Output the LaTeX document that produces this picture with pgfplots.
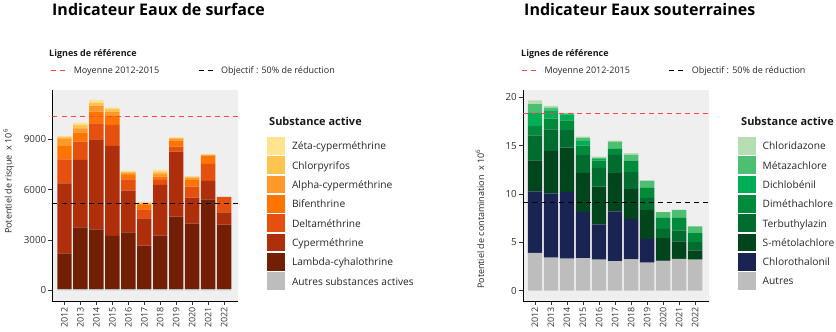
\documentclass[border=0pt]{standalone}
\usepackage{fontspec}
\setmainfont{Open Sans}
\usepackage{pgfplots}
\pgfplotsset{compat=1.18}

\definecolor{panelbg}{HTML}{EFEFEF}
\definecolor{refred}{HTML}{FF4545}
\definecolor{cZeta}{HTML}{FEE391}
\definecolor{cChlorp}{HTML}{FEC44F}
\definecolor{cAlpha}{HTML}{FE9929}
\definecolor{cBif}{HTML}{FF7400}
\definecolor{cDelta}{HTML}{E5500E}
\definecolor{cCyper}{HTML}{AF2F0C}
\definecolor{cLambda}{HTML}{731F05}
\definecolor{cAutres}{HTML}{BDBDBD}
\definecolor{gChlorid}{HTML}{B7DDB3}
\definecolor{gMetaz}{HTML}{4CBF72}
\definecolor{gDichlo}{HTML}{00AF55}
\definecolor{gDimeth}{HTML}{008A3B}
\definecolor{gTerbu}{HTML}{006C30}
\definecolor{gSmeto}{HTML}{00451C}
\definecolor{gChloroth}{HTML}{1A2452}

\pgfplotsset{
  panel/.style={
    scale only axis, anchor=south west,
    width=186pt, height=211pt,
    xmin=-0.75, xmax=10.87,
    axis background/.style={fill=panelbg},
    axis x line*=bottom, axis y line*=left,
    axis line style={black, line width=0.8pt, -},
    tick align=outside, major tick length=4pt,
    tick style={black!80, line width=0.6pt},
    xtick={0,1,2,3,4,5,6,7,8,9,10},
    xticklabels={2012,2013,2014,2015,2016,2017,2018,2019,2020,2021,2022},
    xticklabel style={rotate=90, anchor=east, inner sep=2pt, font=\fontsize{9}{10}\selectfont, text=black!80},
    yticklabel style={font=\fontsize{9.8}{11}\selectfont, text=black!80, inner sep=2pt},
    /pgf/number format/assume math mode=true,
    /pgf/number format/1000 sep={},
    scaled ticks=false,
    ybar stacked, bar width=14.4pt,
    every axis plot/.append style={draw=none},
    reverse legend,
    legend cell align=left,
    legend image code/.code={\path[#1, draw=none] (0pt,-8.85pt) rectangle (17.7pt,8.85pt);},
    legend style={draw=none, fill=none, inner sep=0pt, outer sep=0pt,
      anchor=north west, row sep=1.64pt, column sep=7pt,
      font=\fontsize{10.2}{11}\selectfont, text=black!85,
      nodes={inner sep=0pt, text depth=0pt}},
  },
  refpanel/.style={
    scale only axis, anchor=south west,
    width=186pt, height=211pt,
    xmin=-0.75, xmax=10.87,
    hide axis,
    legend columns=2,
    legend cell align=left,
    legend image code/.code={\draw[#1] (0pt,0pt) -- (14pt,0pt);},
    legend style={draw=none, fill=none, inner sep=0pt, outer sep=0pt,
      anchor=west, column sep=8pt,
      font=\fontsize{9}{10}\selectfont, text=black!85,
      nodes={inner sep=0pt, text depth=0pt},
      /tikz/every even column/.append style={column sep=39pt}},
  },
}

\begin{document}
\begin{tikzpicture}[x=1pt,y=1pt]
\path (0,0) rectangle (836,332);

% ---------------- Left: Eaux de surface ----------------
\begin{axis}[panel, at={(52.5pt,31pt)}, width=185.5pt,
  ymin=-638, ymax=11937, ytick={0,3000,6000,9000},
  legend style={at={(1.158,0.777)}}]
\addplot[fill=cAutres] coordinates {(0,70)(1,70)(2,70)(3,70)(4,70)(5,70)(6,70)(7,70)(8,70)(9,70)(10,70)};
\addlegendentry{Autres substances actives}
\addplot[fill=cLambda] coordinates {(0,2135)(1,3685)(2,3566)(3,3169)(4,3387)(5,2593)(6,3189)(7,4321)(8,3904)(9,5355)(10,3844)};
\addlegendentry{Lambda-cyhalothrine}
\addplot[fill=cCyper] coordinates {(0,4173)(1,4015)(2,5364)(3,5364)(4,2484)(5,1629)(6,3020)(7,3875)(8,1550)(9,1092)(10,736)};
\addlegendentry{Cyperméthrine}
\addplot[fill=cDelta] coordinates {(0,1431)(1,1092)(2,955)(3,1252)(4,676)(5,536)(6,298)(7,298)(8,656)(9,1014)(10,914)};
\addlegendentry{Deltaméthrine}
\addplot[fill=cBif] coordinates {(0,795)(1,538)(2,695)(3,537)(4,258)(5,259)(6,199)(7,358)(8,437)(9,496)(10,0)};
\addlegendentry{Bifenthrine}
\addplot[fill=cAlpha] coordinates {(0,457)(1,257)(2,358)(3,258)(4,139)(5,99)(6,159)(7,99)(8,99)(9,40)(10,0)};
\addlegendentry{Alpha-cyperméthrine}
\addplot[fill=cChlorp] coordinates {(0,79)(1,198)(2,179)(3,140)(4,59)(5,40)(6,139)(7,60)(8,59)(9,23)(10,0)};
\addlegendentry{Chlorpyrifos}
\addplot[fill=cZeta] coordinates {(0,60)(1,140)(2,159)(3,118)(4,40)(5,40)(6,119)(7,39)(8,40)(9,17)(10,0)};
\addlegendentry{Zéta-cyperméthrine}
\end{axis}

\begin{axis}[refpanel, at={(52.5pt,31pt)}, width=185.5pt,
  ymin=-638, ymax=11937,
  legend style={at={(-0.0081,1.0948)}}]
\addplot[refred, line width=0.8pt, dash pattern=on 5pt off 4pt] coordinates {(-0.75,10340)(10.87,10340)};
\addlegendentry{Moyenne 2012-2015}
\addplot[black, line width=0.8pt, dash pattern=on 5pt off 4pt] coordinates {(-0.75,5170)(10.87,5170)};
\addlegendentry{Objectif : 50\% de réduction}
\end{axis}

\node[anchor=base west, inner sep=0pt, font=\fontsize{16}{18}\selectfont\bfseries] at (52,316) {Indicateur Eaux de surface};
\node[anchor=base west, inner sep=0pt, font=\fontsize{9}{10}\selectfont\bfseries, text=black!90] at (49,275) {Lignes de référence};
\node[anchor=base west, inner sep=0pt, font=\fontsize{11}{12}\selectfont\bfseries, text=black!90] at (269,206) {Substance active};
\node[rotate=90, anchor=center, font=\fontsize{9}{10}\selectfont, text=black!85] at (8.5,150.5) {Potentiel de risque\ \ x 10\textsuperscript{6}};

% ---------------- Right: Eaux souterraines ----------------
\begin{axis}[panel, at={(523pt,31pt)}, width=186pt,
  ymin=-1.065, ymax=20.75, ytick={0,5,10,15,20},
  legend style={at={(1.156,0.777)}}]
\addplot[fill=cAutres] coordinates {(0,3.90)(1,3.41)(2,3.31)(3,3.37)(4,3.20)(5,3.06)(6,3.24)(7,2.89)(8,3.06)(9,3.30)(10,3.20)};
\addlegendentry{Autres}
\addplot[fill=gChloroth] coordinates {(0,6.38)(1,6.62)(2,6.90)(3,4.75)(4,3.65)(5,5.13)(6,4.19)(7,2.48)(8,0.04)(9,0)(10,0)};
\addlegendentry{Chlorothalonil}
\addplot[fill=gSmeto] coordinates {(0,3.20)(1,4.42)(2,4.58)(3,4.07)(4,3.92)(5,3.96)(6,3.07)(7,2.99)(8,2.34)(9,1.79)(10,0.96)};
\addlegendentry{S-métolachlore}
\addplot[fill=gTerbu] coordinates {(0,2.59)(1,2.24)(2,1.80)(3,1.82)(4,1.93)(5,1.89)(6,1.75)(7,1.24)(8,0.96)(9,1.14)(10,0.87)};
\addlegendentry{Terbuthylazin}
\addplot[fill=gDimeth] coordinates {(0,0.96)(1,1.10)(2,1.03)(3,1.00)(4,0.76)(5,0.62)(6,1.21)(7,1.04)(8,1.14)(9,1.31)(10,0.92)};
\addlegendentry{Diméthachlore}
\addplot[fill=gDichlo] coordinates {(0,1.35)(1,0.80)(2,0.62)(3,0.52)(4,0.14)(5,0)(6,0)(7,0)(8,0)(9,0)(10,0)};
\addlegendentry{Dichlobénil}
\addplot[fill=gMetaz] coordinates {(0,0.90)(1,0.34)(2,0.09)(3,0.27)(4,0.13)(5,0.74)(6,0.58)(7,0.75)(8,0.58)(9,0.82)(10,0.69)};
\addlegendentry{Métazachlore}
\addplot[fill=gChlorid] coordinates {(0,0.41)(1,0.17)(2,0.05)(3,0.14)(4,0.14)(5,0.12)(6,0.18)(7,0)(8,0)(9,0)(10,0)};
\addlegendentry{Chloridazone}
\end{axis}

\begin{axis}[refpanel, at={(523pt,31pt)}, width=186pt,
  ymin=-1.065, ymax=20.75,
  legend style={at={(-0.007,1.0948)}}]
\addplot[refred, line width=0.8pt, dash pattern=on 5pt off 4pt] coordinates {(-0.75,18.28)(10.87,18.28)};
\addlegendentry{Moyenne 2012-2015}
\addplot[black, line width=0.8pt, dash pattern=on 5pt off 4pt] coordinates {(-0.75,9.14)(10.87,9.14)};
\addlegendentry{Objectif : 50\% de réduction}
\end{axis}

\node[anchor=base west, inner sep=0pt, font=\fontsize{16}{18}\selectfont\bfseries] at (524,316) {Indicateur Eaux souterraines};
\node[anchor=base west, inner sep=0pt, font=\fontsize{9}{10}\selectfont\bfseries, text=black!90] at (521,275) {Lignes de référence};
\node[anchor=base west, inner sep=0pt, font=\fontsize{11}{12}\selectfont\bfseries, text=black!90] at (741,206) {Substance active};
\node[rotate=90, anchor=center, font=\fontsize{9}{10}\selectfont, text=black!85] at (480,113) {Potentiel de contamination\ \ x 10\textsuperscript{6}};

\pgfresetboundingbox
\useasboundingbox (0,0) rectangle (836,332);
\end{tikzpicture}
\end{document}
